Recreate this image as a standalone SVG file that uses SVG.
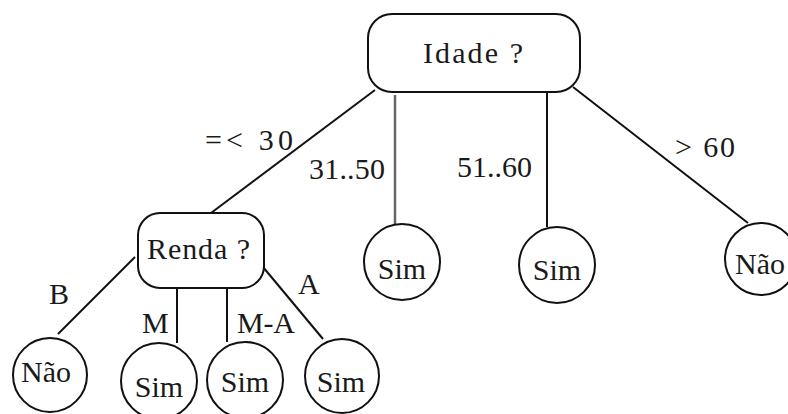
<svg xmlns="http://www.w3.org/2000/svg" width="788" height="414" viewBox="0 0 788 414">
<style>
.box{fill:#fff;stroke:#111;stroke-width:2}
.t{font-family:"Liberation Serif","DejaVu Serif",serif;font-size:30px;fill:#1a1a1a}
.c{text-anchor:middle}
.e{stroke:#111;stroke-width:2;fill:none}
.g{stroke:#666;stroke-width:2.5;fill:none}
</style>
<rect width="788" height="414" fill="#fff"/>
<g id="connectors">
<line class="e" x1="375" y1="90" x2="211" y2="213"/>
<line class="g" x1="395" y1="95" x2="395" y2="224"/>
<line class="e" x1="547" y1="92" x2="547" y2="227"/>
<line class="e" x1="573" y1="87" x2="748" y2="223"/>
<line class="e" x1="135" y1="257" x2="58" y2="334"/>
<line class="e" x1="177" y1="288" x2="177" y2="343"/>
<line class="e" x1="227" y1="288" x2="227" y2="342"/>
<line class="e" x1="263" y1="267" x2="323" y2="339"/>
</g>
<g id="labels">
<text class="t" x="205" y="150" textLength="88" lengthAdjust="spacing">=&lt; 30</text>
<text class="t" x="309" y="179" textLength="76" lengthAdjust="spacing">31..50</text>
<text class="t" x="457" y="177" textLength="75" lengthAdjust="spacing">51..60</text>
<text class="t" x="675" y="157" textLength="60" lengthAdjust="spacing">&gt; 60</text>
<text class="t" x="49" y="304">B</text>
<text class="t" x="142" y="333">M</text>
<text class="t" x="237" y="333" textLength="58" lengthAdjust="spacing">M-A</text>
<text class="t" x="298" y="294">A</text>
</g>
<g id="idade">
<rect class="box" x="368" y="14" width="212" height="78" rx="24"/>
<text class="t" x="423" y="63" textLength="100" lengthAdjust="spacing">Idade ?</text>
</g>
<g id="renda">
<rect class="box" x="138" y="213" width="126" height="75" rx="22"/>
<text class="t" x="147" y="259" textLength="103" lengthAdjust="spacing">Renda ?</text>
</g>
<g id="sim-31-50">
<circle class="box" cx="402" cy="262" r="38"/>
<text class="t c" x="402" y="279">Sim</text>
</g>
<g id="sim-51-60">
<circle class="box" cx="557" cy="265" r="38"/>
<text class="t c" x="557" y="280">Sim</text>
</g>
<g id="nao-60">
<circle class="box" cx="761" cy="259" r="36"/>
<text class="t c" x="760" y="274">Não</text>
</g>
<g id="nao-b">
<circle class="box" cx="50" cy="375" r="37"/>
<text class="t c" x="46" y="382">Não</text>
</g>
<g id="sim-m">
<circle class="box" cx="159" cy="381" r="38"/>
<text class="t c" x="159" y="397">Sim</text>
</g>
<g id="sim-ma">
<circle class="box" cx="245" cy="380" r="38"/>
<text class="t c" x="245" y="392">Sim</text>
</g>
<g id="sim-a">
<circle class="box" cx="342" cy="376" r="37"/>
<text class="t c" x="341" y="392">Sim</text>
</g>
</svg>
